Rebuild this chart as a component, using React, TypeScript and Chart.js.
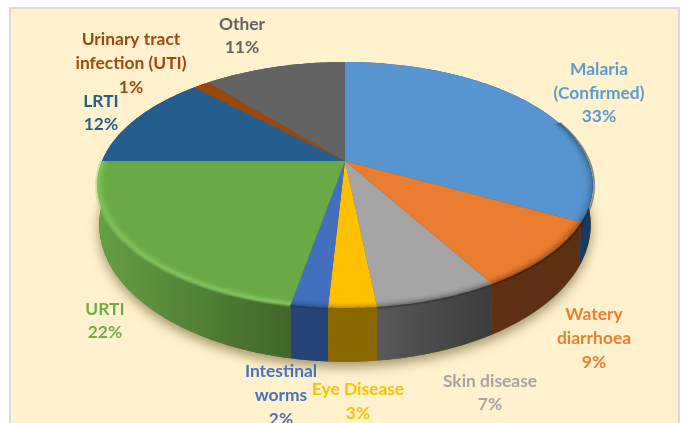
import React, { useEffect, useRef } from "react";
import { Chart, registerables } from "chart.js";

Chart.register(...registerables);

const categories = ["Malaria (Confirmed)", "Watery diarrhoea", "Skin disease", "Eye Disease", "Intestinal worms", "URTI", "LRTI", "Urinary tract infection (UTI)", "Other"];
const shareValues = [32.8, 8.8, 6.7, 2.6, 2.0, 22.1, 12.5, 1.3, 11.2];
const percentLabels = ["33%", "9%", "7%", "3%", "2%", "22%", "12%", "1%", "11%"];
const sliceColors = ["#5795D0", "#EA7C30", "#A5A5A5", "#FFC000", "#4270BE", "#6BA947", "#265D8F", "#9A470E", "#636363"];

// styling and layout, kept apart from the data
const textColors = ["#5B9BD5", "#ED7D31", "#A5A5A5", "#FFC000", "#4472C4", "#70AD47", "#255E91", "#9E480E", "#636363"];
const wallColors = [["#2A5E8C", "#17395A"], ["#5F3014", "#5C2E12"], ["#585858", "#3C3C3C"], ["#8A6A00", "#8A6A00"], ["#264478", "#264478"], ["#64A044", "#41652A"], ["#1A4060", "#1A4060"], ["#6A3008", "#6A3008"], ["#444444", "#444444"]];
const rimColors = ["rgba(20,50,80,A)", "rgba(60,25,5,A)", "rgba(50,50,50,A)", "rgba(130,95,0,A)", "rgba(30,55,100,A)", "rgba(140,208,104,A)", "rgba(20,60,90,A)", "rgba(90,40,10,A)", "rgba(50,50,50,A)"];
const labelLayouts = [
  { x: 599, ys: [69, 93, 116], lines: ["Malaria", "(Confirmed)"] },
  { x: 594, ys: [314, 338, 362], lines: ["Watery", "diarrhoea"] },
  { x: 490, ys: [381, 404], lines: ["Skin disease"] },
  { x: 358, ys: [389, 413], lines: ["Eye Disease"] },
  { x: 281, ys: [371, 395, 419], lines: ["Intestinal", "worms"] },
  { x: 105, ys: [309, 332], lines: ["URTI"] },
  { x: 101, ys: [101, 124], lines: ["LRTI"] },
  { x: 131, ys: [39, 63, 87], lines: ["Urinary tract", "infection (UTI)"] },
  { x: 242, ys: [24, 47], lines: ["Other"] },
];

const topFace = { cx: 345, cy: 161, a: 243, b: 118.3 };
const bottomFace = { cx: 345, cy: 198, a: 241, b: 131.8 };
const tilt = -0.195;

type Face = { cx: number; cy: number; a: number; b: number };

function project(face: Face, angle: number, r = 1) {
  const u = r * Math.cos(angle);
  const v = r * Math.sin(angle);
  const d = 1 + tilt * v;
  return { x: face.cx + (face.a * u) / d, y: face.cy + (face.b * v) / d };
}

function trace(ctx: CanvasRenderingContext2D, face: Face, a0: number, a1: number, r = 1, move = false) {
  const steps = Math.max(2, Math.ceil(Math.abs(a1 - a0) / 0.012));
  for (let i = 0; i <= steps; i++) {
    const p = project(face, a0 + ((a1 - a0) * i) / steps, r);
    if (i === 0 && move) ctx.moveTo(p.x, p.y);
    else ctx.lineTo(p.x, p.y);
  }
}

const pie3d = {
  id: "pie3d",
  beforeDatasetDraw(chart: any) {
    const ctx: CanvasRenderingContext2D = chart.ctx;
    const arcs = chart.getDatasetMeta(0).data;
    ctx.save();

    // soft ground shadow
    ctx.save();
    ctx.shadowColor = "rgba(70,55,10,0.5)";
    ctx.shadowBlur = 12;
    ctx.shadowOffsetY = 5;
    ctx.fillStyle = "#6b5a2a";
    ctx.beginPath();
    trace(ctx, bottomFace, 0, Math.PI * 2, 1, true);
    ctx.closePath();
    ctx.fill();
    ctx.restore();

    // outer wall, back slices first
    arcs.forEach((arc: any, i: number) => {
      const { startAngle: s, endAngle: e } = arc;
      const ps = project(topFace, s);
      const xs = [];
      for (let t = 0; t <= 40; t++) xs.push(project(topFace, s + ((e - s) * t) / 40).x);
      const g = ctx.createLinearGradient(Math.min(...xs), 0, Math.max(...xs), 0);
      g.addColorStop(0, wallColors[i][0]);
      g.addColorStop(1, wallColors[i][1]);
      ctx.fillStyle = g;
      ctx.beginPath();
      ctx.moveTo(ps.x, ps.y);
      trace(ctx, topFace, s, e);
      trace(ctx, bottomFace, e, s);
      ctx.closePath();
      ctx.fill();
    });

    // top faces
    arcs.forEach((arc: any, i: number) => {
      ctx.fillStyle = sliceColors[i];
      ctx.beginPath();
      ctx.moveTo(topFace.cx, topFace.cy);
      trace(ctx, topFace, arc.startAngle, arc.endAngle);
      ctx.closePath();
      ctx.fill();
    });

    // soft bevel along the front rim
    arcs.forEach((arc: any, i: number) => {
      const s = Math.max(arc.startAngle, -0.35);
      const e = Math.min(arc.endAngle, Math.PI);
      if (e <= s) return;
      ctx.save();
      ctx.beginPath();
      ctx.moveTo(topFace.cx, topFace.cy);
      trace(ctx, topFace, arc.startAngle, arc.endAngle, 1.03);
      ctx.closePath();
      ctx.clip();
      const isLight = i === 5;
      const bands = isLight ? [0.35, 0.5, 0.55, 0.45, 0.3, 0.18, 0.08, 0.03] : [0.5, 0.36, 0.26, 0.18, 0.12, 0.07, 0.04, 0.02];
      bands.forEach((alpha, b) => {
        ctx.strokeStyle = rimColors[i].replace("A", String(alpha));
        ctx.lineWidth = 1.6;
        ctx.beginPath();
        trace(ctx, topFace, s, e, 1.006 - b * 0.0055, true);
        ctx.stroke();
      });
      ctx.restore();
    });

    ctx.restore();
    return false;
  },
  afterDatasetsDraw(chart: any) {
    const ctx: CanvasRenderingContext2D = chart.ctx;
    ctx.save();
    ctx.font = 'bold 17.4px Lato, "Open Sans", sans-serif';
    ctx.textAlign = "center";
    ctx.textBaseline = "middle";
    labelLayouts.forEach((layout, i) => {
      ctx.fillStyle = textColors[i];
      const lines = [...layout.lines, percentLabels[i]];
      lines.forEach((line, n) => ctx.fillText(line, layout.x, layout.ys[n]));
    });
    ctx.restore();
  },
};

export default function App() {
  const ref = useRef<HTMLCanvasElement>(null);
  useEffect(() => {
    const chart = new Chart(ref.current as HTMLCanvasElement, {
      type: "pie",
      data: {
        labels: categories,
        datasets: [{ data: shareValues, backgroundColor: sliceColors, borderWidth: 0 }],
      },
      options: {
        animation: false,
        responsive: false,
        plugins: { legend: { display: false }, tooltip: { enabled: false } },
      },
      plugins: [pie3d],
    } as any);
    return () => chart.destroy();
  }, []);
  return (
    <div style={{ position: "fixed", left: 0, top: 0, width: 689, height: 423, overflow: "hidden", background: "#fff" }}>
      <div style={{ position: "absolute", left: 9, top: 7, width: 671, height: 430, boxSizing: "border-box", background: "#FFF2CC", border: "2px solid #DADADA" }} />
      <canvas ref={ref} width={689} height={423} style={{ position: "absolute", left: 0, top: 0 }} />
    </div>
  );
}
